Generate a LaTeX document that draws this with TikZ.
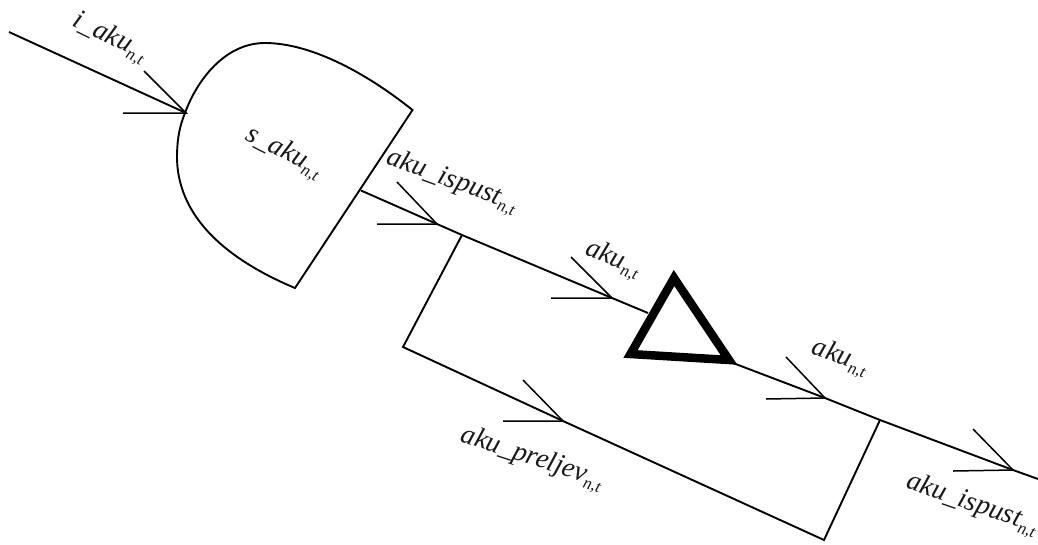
\documentclass[tikz,border=0pt]{standalone}
\usepackage{fontspec}
\setmainfont{Liberation Serif}
\newcommand\lab[1]{\textit{#1}\kern-0.02em\raisebox{-0.2em}{\fontsize{17}{17}\selectfont\textit{n,t}}}
\tikzset{
  flow/.style={draw=black,line width=1.9pt},
  barb/.style={draw=black,line width=1.5pt},
  txt/.style={inner sep=0pt,font=\fontsize{28}{30}\selectfont,text=black!90},
}
\begin{document}
\begin{tikzpicture}[x=1pt,y=-1pt]
\useasboundingbox (0,0) rectangle (1038,544);
% named points
\coordinate (inStart) at (9,32);
\coordinate (inEnd) at (186,113);
\coordinate (inB1) at (144,71);
\coordinate (inB2) at (123,113);
\coordinate (tr) at (412.5,110);
\coordinate (br) at (295,288);
\coordinate (outStart) at (361,190.5);
\coordinate (outHead) at (437,224);
\coordinate (outB1) at (397,182);
\coordinate (outB2) at (377,224);
\coordinate (j1) at (462,235);
\coordinate (c1) at (403,347);
\coordinate (c2) at (824,540);
\coordinate (j2) at (880,420);
\coordinate (aHead) at (612,298);
\coordinate (aB1) at (571,257);
\coordinate (aB2) at (551,298);
\coordinate (triIn) at (648,313);
\coordinate (triOut) at (733,363);
\coordinate (tA) at (674,278);
\coordinate (tL) at (630.5,354);
\coordinate (tR) at (729,360);
\coordinate (bHead) at (825,398);
\coordinate (bB1) at (786,357);
\coordinate (bB2) at (766,399);
\coordinate (pHead) at (563,421);
\coordinate (pB1) at (523,380);
\coordinate (pB2) at (503,421);
\coordinate (eHead) at (1013,470);
\coordinate (eB1) at (973,429);
\coordinate (eB2) at (953,471);
\coordinate (lineEnd) at (1038,479);
% reservoir body
\draw[flow] (tr) .. controls (365,72) and (310,43) .. (265,43)
  .. controls (225,43) and (197,80) .. (185,113)
  .. controls (178,130) and (177,145) .. (177,158)
  .. controls (178,225) and (240,265) .. (295,288) -- cycle;
% main line
\draw[flow] (inStart) -- (inEnd);
\draw[flow] (outStart) -- (outHead) -- (j1) -- (aHead) -- (triIn);
\draw[flow] (triOut) -- (bHead) -- (j2) -- (eHead) -- (lineEnd);
% overflow branch
\draw[flow] (j1) -- (c1) -- (pHead) -- (c2) -- (j2);
% arrow barbs
\draw[barb] (inB1) -- (inEnd) -- (inB2);
\draw[barb] (outB1) -- (outHead) -- (outB2);
\draw[barb] (aB1) -- (aHead) -- (aB2);
\draw[barb] (bB1) -- (bHead) -- (bB2);
\draw[barb] (pB1) -- (pHead) -- (pB2);
\draw[barb] (eB1) -- (eHead) -- (eB2);
% triangle
\draw[line width=8.5pt,miter limit=10,fill=white] (tA) -- (tL) -- (tR) -- cycle;
% labels
\node[txt,rotate=-26] (l1) at (110,38) {\lab{i\_aku}};
\node[txt,rotate=-27] (l2) at (284,153) {\lab{s\_aku}};
\node[txt,rotate=-20] (l3) at (452,182) {\lab{aku\_ispust}};
\node[txt,rotate=-21] (l4) at (613,260) {\lab{aku}};
\node[txt,rotate=-19] (l5) at (840,358) {\lab{aku}};
\node[txt,rotate=-18] (l6) at (532,459) {\lab{aku\_preljev}};
\node[txt,rotate=-19] (l7) at (972,505) {\lab{aku\_ispust}};
\end{tikzpicture}
\end{document}
